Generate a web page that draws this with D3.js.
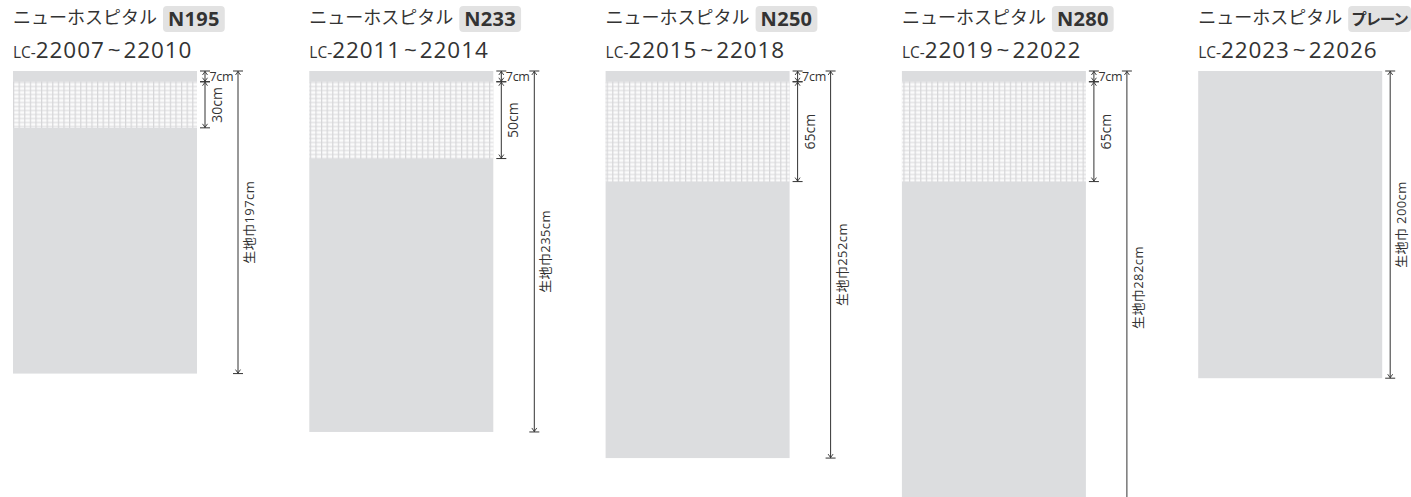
<!DOCTYPE html>
<html><head><meta charset="utf-8">
<script src="https://cdn.jsdelivr.net/npm/d3@7"></script>
<style>
html,body{margin:0;padding:0;background:#fff;}
svg{display:block;font-family:"Noto Sans CJK JP","Noto Sans",sans-serif;}
.num{font-family:"Open Sans","Noto Sans CJK JP",sans-serif;}
</style></head>
<body>
<svg id="chart" width="1411" height="497"></svg>
<script>
const series = ["ニューホスピタル","ニューホスピタル","ニューホスピタル","ニューホスピタル","ニューホスピタル"];
const badges = ["N195","N233","N250","N280","プレーン"];
const codes = ["22007","22011","22015","22019","22023"];
const codesEnd = ["22010","22014","22018","22022","22026"];
const totalCm = [197,235,252,282,200];
const topCm = [7,7,7,7,0];
const meshCm = [30,50,65,65,0];
const totalLabels = ["生地巾197cm","生地巾235cm","生地巾252cm","生地巾282cm","生地巾 200cm"];

const svg = d3.select("#chart");
const x = d3.scaleBand().domain(d3.range(badges.length)).range([13, 13 + 5*296.3]);
const panelW = 184;
const y = d3.scaleLinear().domain([0, 100]).range([71, 71 + 153.6]);

const defs = svg.append("defs");
const pat = defs.append("pattern").attr("id","mesh").attr("patternUnits","userSpaceOnUse")
  .attr("width",5.6).attr("height",4).attr("x",13).attr("y",82);
pat.append("rect").attr("width",5.6).attr("height",4).attr("fill","#f3f3f4");
pat.append("rect").attr("y",2).attr("width",5.6).attr("height",1).attr("fill","#fbfbfb");
pat.append("rect").attr("y",0).attr("width",5.6).attr("height",1).attr("fill","#e8e8e9");
pat.append("rect").attr("x",0).attr("width",1.2).attr("height",4).attr("fill","#d6d6d8");

const ink = "#333";
function arrow(g, xx, y0, y1, tick) {
  g.append("line").attr("x1",xx).attr("x2",xx).attr("y1",y0).attr("y2",y1).attr("stroke",ink).attr("stroke-width",1);
  [[y0,1],[y1,-1]].forEach(([yy,dir])=>{
    g.append("line").attr("x1",xx-tick).attr("x2",xx+tick).attr("y1",yy).attr("y2",yy).attr("stroke",ink).attr("stroke-width",1);
    g.append("path").attr("d",`M${xx-2.5},${yy+dir*4}L${xx},${yy+dir*0.5}L${xx+2.5},${yy+dir*4}`)
      .attr("fill","none").attr("stroke",ink).attr("stroke-width",0.9);
  });
}

badges.forEach((b,i)=>{
  const x0 = x(i);
  const g = svg.append("g");
  // header
  g.append("text").attr("x",x0).attr("y",24).attr("font-size",18).attr("fill","#333").text(series[i]);
  const latin = /^[A-Z0-9]+$/.test(b);
  const bx = x0 + 150;
  const bt = g.append("text").attr("x",bx + (latin?5:3)).attr("y",latin?26:25).attr("font-size", latin?20:15.5)
    .attr("class", latin?"num":null).attr("letter-spacing", latin?0.3:-1.2)
    .attr("font-weight","bold").attr("fill","#333").text(b);
  const bw = bt.node().getComputedTextLength();
  g.insert("rect",":last-child").attr("x",bx).attr("y",6).attr("width",Math.min(bw+(latin?10:8), 1411-bx)).attr("height",26)
    .attr("rx",4).attr("fill","#e2e2e2");
  const t2 = g.append("text").attr("x",x0).attr("y",58).attr("fill","#333").attr("class","num");
  t2.append("tspan").attr("font-size",15.5).text("LC-");
  t2.append("tspan").attr("font-size",22.5).attr("letter-spacing",0.9).text(codes[i]);
  t2.append("tspan").attr("font-size",22.5).attr("dx",3).text("~");
  t2.append("tspan").attr("font-size",22.5).attr("dx",3).attr("letter-spacing",0.9).text(codesEnd[i]);

  // fabric
  g.append("rect").attr("x",x0).attr("y",y(0)).attr("width",panelW).attr("height",y(totalCm[i])-y(0)).attr("fill","#dcdddf");
  if (meshCm[i]>0) {
    g.append("rect").attr("x",x0).attr("y",y(topCm[i])).attr("width",panelW)
      .attr("height",y(topCm[i]+meshCm[i])-y(topCm[i])).attr("fill","url(#mesh)");
  }
  const r = x0 + panelW;
  let totX;
  if (meshCm[i]>0) {
    const ax = r + 8;
    arrow(g, ax, y(0), y(topCm[i]), 5);
    arrow(g, ax, y(topCm[i]), y(topCm[i]+meshCm[i]), 5);
    g.append("text").attr("class","num").attr("x",ax+4.5).attr("y",y(topCm[i]/2)+4.5).attr("font-size",12.5)
      .attr("letter-spacing",-0.3).attr("fill","#333").text(topCm[i]+"cm");
    const my = (y(topCm[i])+y(topCm[i]+meshCm[i]))/2;
    g.append("text").attr("class","num").attr("transform",`translate(${ax+17},${my}) rotate(-90)`).attr("text-anchor","middle")
      .attr("font-size",14).attr("fill","#333").text(meshCm[i]+"cm");
    totX = r + 41;
  } else {
    totX = r + 8;
  }
  arrow(g, totX, y(0), y(totalCm[i]), 5);
  const cy = (y(0)+y(totalCm[i]))/2;
  g.append("text").attr("class","num").attr("transform",`translate(${totX+16},${cy}) rotate(-90)`).attr("text-anchor","middle")
    .attr("font-size",13).attr("letter-spacing",0.4).attr("fill","#333").text(totalLabels[i]);
});
</script>
</body></html>
